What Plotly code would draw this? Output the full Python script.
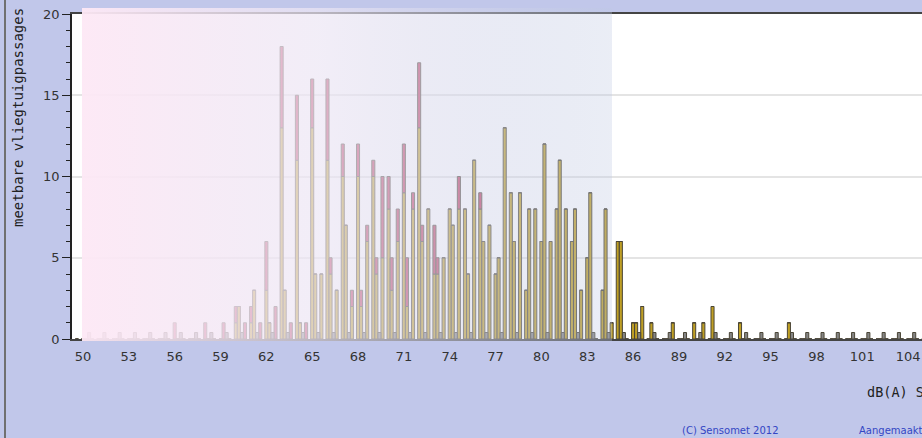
import base64
import plotly.graph_objects as go

# geluidsklasse dB(A) SEL, per 1 dB
db = [50, 51, 52, 53, 54, 55, 56, 57, 58, 59,
      60, 61, 62, 63, 64, 65, 66, 67, 68, 69,
      70, 71, 72, 73, 74, 75, 76, 77, 78, 79,
      80, 81, 82, 83, 84, 85, 86, 87, 88, 89,
      90, 91, 92, 93, 94, 95, 96, 97, 98, 99,
      100, 101, 102, 103, 104, 105, 106]

# group A
a_geel = [0, 0, 0, 0, 0, 0, 0, 0, 0, 0,
          0, 0, 0, 0, 0, 0, 4, 3, 2, 6,
          5, 6, 8, 8, 5, 8, 11, 7, 13, 9,
          8, 6, 8, 3, 0, 1, 0, 2, 0, 1,
          0, 1, 0, 0, 0, 0, 0, 0, 0, 0,
          0, 0, 0, 0, 0, 0, 0]
a_roze = [0, 0, 0, 0, 0, 0, 0, 0, 0, 0,
          0, 1, 1, 2, 1, 1, 0, 0, 1, 1,
          5, 2, 1, 0, 0, 2, 0, 0, 0, 0,
          0, 0, 0, 0, 0, 0, 0, 0, 0, 0,
          0, 0, 0, 0, 0, 0, 0, 0, 0, 0,
          0, 0, 0, 0, 0, 0, 0]
# group B
b_geel = [0, 0, 0, 0, 0, 0, 0, 0, 0, 0,
          1, 1, 3, 13, 11, 13, 11, 10, 10, 10,
          8, 9, 13, 4, 8, 8, 8, 4, 9, 3,
          6, 8, 6, 5, 3, 6, 1, 0, 0, 0,
          1, 0, 0, 1, 0, 0, 0, 0, 0, 0,
          0, 0, 0, 0, 0, 0, 0]
b_roze = [0, 0, 0, 0, 0, 0, 1, 0, 1, 0,
          1, 1, 3, 5, 4, 3, 5, 2, 2, 1,
          2, 3, 4, 3, 0, 0, 1, 0, 0, 0,
          0, 0, 0, 0, 0, 0, 0, 0, 0, 0,
          0, 0, 0, 0, 0, 0, 0, 0, 0, 0,
          0, 0, 0, 0, 0, 0, 0]
# group C
c_geel = [0, 0, 0, 0, 0, 0, 0, 0, 0, 0,
          2, 3, 1, 3, 1, 4, 4, 7, 2, 4,
          3, 2, 6, 4, 7, 4, 6, 5, 6, 8,
          12, 11, 8, 9, 8, 6, 1, 1, 0, 0,
          0, 2, 0, 0, 0, 0, 1, 0, 0, 0,
          0, 0, 0, 0, 0, 0, 0]
c_roze = [0, 0, 0, 0, 0, 0, 0, 0, 0, 1,
          0, 0, 0, 0, 0, 0, 1, 0, 1, 1,
          2, 3, 1, 1, 0, 0, 0, 0, 0, 0,
          0, 0, 0, 0, 0, 0, 0, 0, 0, 0,
          0, 0, 0, 0, 0, 0, 0, 0, 0, 0,
          0, 0, 0, 0, 0, 0, 0]
# small grey marker bar in every class
grijs = [0.4, 0.4, 0.4, 0.4, 0.4, 0.4, 0.4, 0.4, 0.4, 0.4,
         0.4, 0.4, 0.4, 0.4, 0.4, 0.4, 0.4, 0.4, 0.4, 0.4,
         0.4, 0.4, 0.4, 0.4, 0.4, 0.4, 0.4, 0.4, 0.4, 0.4,
         0.4, 0.4, 0.4, 0.4, 0.4, 0.4, 0.4, 0.4, 0.4, 0.4,
         0.4, 0.4, 0.4, 0.4, 0.4, 0.4, 0.4, 0.4, 0.4, 0.4,
         0.4, 0.4, 0.4, 0.4, 0.4, 0.4, 0.4]

GEEL = '#bf9f24'
ROZE = '#c0365c'
RAND = '#4a4536'

fig = go.Figure()


def add_bars(vals, color, offset, base=None):
    fig.add_trace(go.Bar(x=db, y=vals, base=base, width=0.2, offset=offset,
                         marker=dict(color=color, line=dict(color=RAND, width=1)),
                         showlegend=False, hoverinfo='x+y'))


add_bars(a_geel, GEEL, -0.5)
add_bars(a_roze, ROZE, -0.5, base=a_geel)
add_bars(b_geel, GEEL, -0.1)
add_bars(b_roze, ROZE, -0.1, base=b_geel)
add_bars(c_geel, GEEL, 0.1)
add_bars(c_roze, ROZE, 0.1, base=c_geel)
add_bars(grijs, '#858585', 0.3)

# faded gradient band over the lower classes
svg = ('<svg xmlns="http://www.w3.org/2000/svg" width="100" height="100" '
       'viewBox="0 0 100 100" preserveAspectRatio="none">'
       '<defs><linearGradient id="g" x1="0" y1="0" x2="1" y2="0">'
       '<stop offset="0" stop-color="rgb(253,232,245)" stop-opacity="0.96"/>'
       '<stop offset="0.45" stop-color="rgb(236,230,244)" stop-opacity="0.70"/>'
       '<stop offset="1" stop-color="rgb(190,200,226)" stop-opacity="0.32"/>'
       '</linearGradient></defs>'
       '<rect width="100" height="100" fill="url(#g)"/></svg>')
band_src = 'data:image/svg+xml;base64,' + base64.b64encode(svg.encode()).decode()

fig.update_layout(
    width=922, height=438,
    margin=dict(l=72, r=0, t=14, b=99),
    paper_bgcolor='#c1c7ea',
    plot_bgcolor='white',
    barmode='overlay',
    font=dict(family='DejaVu Sans', size=13, color='#333333'),
    xaxis=dict(range=[49.28, 104.91], tick0=50, dtick=3, ticks='outside',
               ticklen=4, tickcolor='rgba(0,0,0,0)', showgrid=False, zeroline=False,
               showline=True, linecolor='#444444', linewidth=2, mirror=True,
               tickfont=dict(size=13, color='#333333')),
    yaxis=dict(range=[0, 20], dtick=5, ticks='outside', ticklen=8, tickcolor='#222222',
               tickwidth=1, showgrid=True, gridcolor='#e4e4e4', gridwidth=2,
               zeroline=False, showline=True, linecolor='#222222', linewidth=1.5,
               minor=dict(ticks='outside', ticklen=4, dtick=1, tickcolor='#222222',
                          showgrid=False),
               tickfont=dict(size=13, color='#333333')),
    images=[dict(source=band_src, xref='paper', yref='paper',
                 x=10 / 850, y=331 / 325, sizex=530 / 850, sizey=333 / 325,
                 sizing='stretch', xanchor='left', yanchor='top', layer='above')],
    shapes=[dict(type='line', xref='paper', yref='paper',
                 x0=-67 / 850, x1=-67 / 850, y0=-99 / 325, y1=339 / 325,
                 line=dict(color='#707070', width=2))],
    annotations=[
        dict(text='meetbare vliegtuigpassages', textangle=-90, xref='paper', yref='paper',
             x=-54 / 850, y=0.68, xanchor='center', yanchor='middle', showarrow=False,
             font=dict(family='DejaVu Sans Mono', size=14, color='#222222')),
        dict(text='dB(A) SEL', xref='paper', yref='paper', x=(865 - 72) / 850,
             y=-53 / 325, xanchor='left', yanchor='middle', showarrow=False,
             font=dict(family='DejaVu Sans Mono', size=13.5, color='#222222')),
        dict(text='(C) Sensomet 2012', xref='paper', yref='paper', x=(680 - 72) / 850,
             y=-91 / 325, xanchor='left', yanchor='middle', showarrow=False,
             font=dict(family='DejaVu Sans', size=10, color='#3346c4')),
        dict(text='Aangemaakt op 2012', xref='paper', yref='paper', x=(857 - 72) / 850,
             y=-91 / 325, xanchor='left', yanchor='middle', showarrow=False,
             font=dict(family='DejaVu Sans', size=10, color='#3346c4')),
    ],
)

fig.write_html("out.html", config=dict(displayModeBar=False),
               post_script="document.body.style.margin='0';document.body.style.overflow='hidden';")
